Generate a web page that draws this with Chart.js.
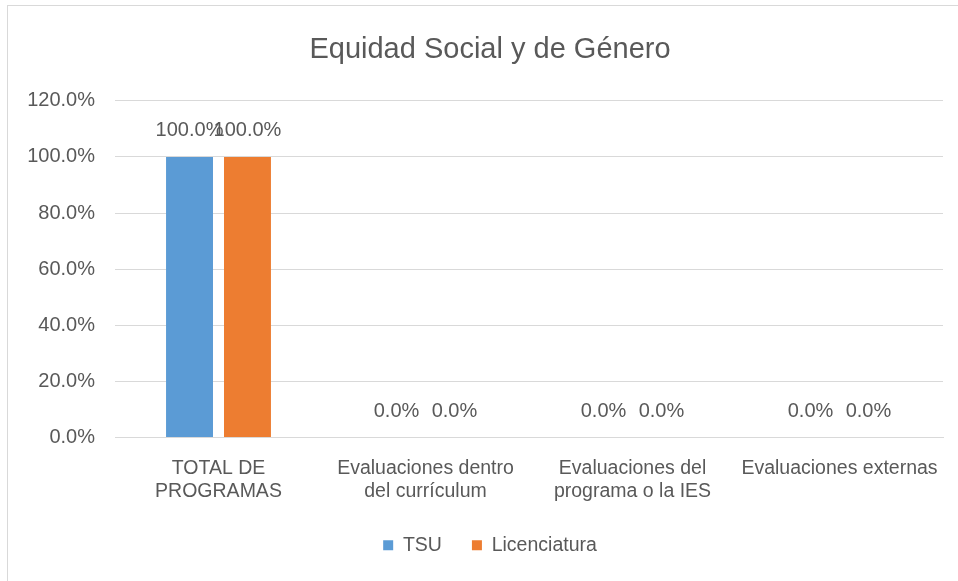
<!DOCTYPE html>
<html>
<head>
    <meta charset="utf-8">
    <title>Equidad Social y de Género</title>
    <script src="https://cdn.jsdelivr.net/npm/chart.js@4.4.1/dist/chart.umd.min.js"></script>
    <style>
        html, body { margin: 0; padding: 0; background: #fff; overflow: hidden; }
        .frame { position: absolute; left: 7px; top: 5px; width: 970px; height: 600px; border: 1px solid #d9d9d9; }
        /* el grafico original queda recortado por la derecha */
        .chart-container { position: absolute; left: 0; top: 0; width: 980px; height: 581px; }
    </style>
</head>
<body>
    <div class="frame"></div>
    <div class="chart-container">
        <canvas id="equidadChart"></canvas>
    </div>

    <script>
        // datos
        const categorias = [
            ['TOTAL DE', 'PROGRAMAS'],
            ['Evaluaciones dentro', 'del currículum'],
            ['Evaluaciones del', 'programa o la IES'],
            'Evaluaciones externas'
        ];
        const tsu = [100, 0, 0, 0];
        const licenciatura = [100, 0, 0, 0];
        const ejeY = [0, 20, 40, 60, 80, 100, 120];

        const fuente = "'Liberation Sans Narrow', 'Liberation Sans', Arial, sans-serif";
        const gris = '#595959';

        // etiquetas de valor encima de cada barra
        const etiquetas = {
            id: 'etiquetas',
            afterDatasetsDraw(chart) {
                const ctx = chart.ctx;
                ctx.save();
                ctx.font = '20px ' + fuente;
                ctx.fillStyle = gris;
                ctx.textAlign = 'center';
                ctx.textBaseline = 'middle';
                chart.data.datasets.forEach((ds, i) => {
                    chart.getDatasetMeta(i).data.forEach((bar, j) => {
                        ctx.fillText(ds.data[j].toFixed(1) + '%', bar.x, bar.y - 26);
                    });
                });
                ctx.restore();
            }
        };

        new Chart(document.getElementById('equidadChart'), {
            type: 'bar',
            data: {
                labels: categorias,
                datasets: [
                    { label: 'TSU', data: tsu, backgroundColor: '#5b9bd5' },
                    { label: 'Licenciatura', data: licenciatura, backgroundColor: '#ed7d31' }
                ]
            },
            options: {
                responsive: true,
                maintainAspectRatio: false,
                animation: false,
                layout: { padding: { left: 0, right: 0, top: 0, bottom: 16 } },
                datasets: { bar: { categoryPercentage: 0.56, barPercentage: 0.81 } },
                scales: {
                    x: {
                        afterFit(scale) { scale.height = 68; },
                        grid: { display: false },
                        border: { color: '#d9d9d9' },
                        ticks: {
                            color: gris,
                            font: { family: fuente, size: 19.5, lineHeight: 1.18 },
                            padding: 12,
                            maxRotation: 0
                        }
                    },
                    y: {
                        min: 0,
                        max: 120,
                        afterFit(scale) { scale.width = 115; },
                        afterBuildTicks(scale) { scale.ticks = ejeY.map(v => ({ value: v })); },
                        grid: { color: '#d9d9d9', drawTicks: false },
                        border: { display: false },
                        ticks: {
                            color: gris,
                            padding: 20,
                            font: { family: fuente, size: 20 },
                            callback: v => v.toFixed(1) + '%'
                        }
                    },
                    // eje vacio a la derecha, solo deja el margen
                    margen: {
                        position: 'right',
                        min: 0,
                        max: 120,
                        afterFit(scale) { scale.width = 37; },
                        grid: { display: false },
                        border: { display: false },
                        ticks: { display: false }
                    }
                },
                plugins: {
                    title: {
                        display: true,
                        text: 'Equidad Social y de Género',
                        color: gris,
                        font: { family: fuente, size: 29, weight: 'normal' },
                        padding: { top: 33, bottom: 33 }
                    },
                    legend: {
                        position: 'bottom',
                        labels: {
                            color: gris,
                            font: { family: fuente, size: 19.5 },
                            boxWidth: 10,
                            boxHeight: 10,
                            padding: 30
                        }
                    },
                    tooltip: { enabled: false }
                }
            },
            plugins: [etiquetas]
        });
    </script>
</body>
</html>
